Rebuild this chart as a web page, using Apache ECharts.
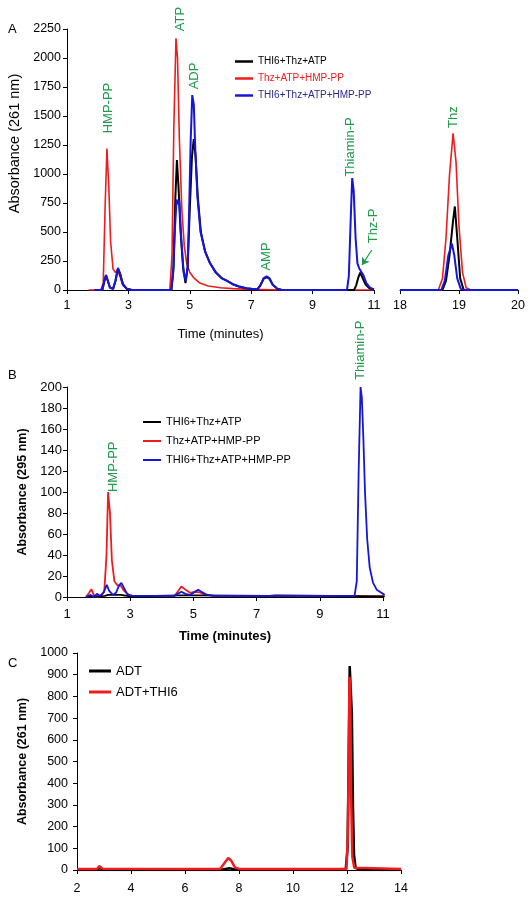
<!DOCTYPE html>
<html><head><meta charset="utf-8">
<script src="https://cdn.jsdelivr.net/npm/echarts@6/dist/echarts.min.js"></script>
<style>html,body{margin:0;padding:0;background:#fff}#c{width:532px;height:915px}</style>
</head><body><div id="c"></div>
<script>
// ---------- DATA ----------
const namesAB = ['THI6+Thz+ATP', 'Thz+ATP+HMP-PP', 'THI6+Thz+ATP+HMP-PP'];
const namesC = ['ADT', 'ADT+THI6'];

// Panel A (absorbance 261 nm), time 1-11 min
const aBlackLeft = [[1.9,0],[2.15,0],[2.22,80],[2.27,125],[2.33,80],[2.4,20],[2.5,10],[2.58,80],[2.66,185],[2.73,140],[2.82,50],[2.95,10],[3.1,0],[4.4,0],[4.47,200],[4.53,800],[4.58,1120],[4.63,900],[4.7,500],[4.78,200],[4.86,60],[4.93,200],[5.0,700],[5.07,1150],[5.13,1300],[5.19,1150],[5.26,800],[5.36,500],[5.5,330],[5.66,230],[5.85,150],[6.05,100],[6.2,80],[6.4,50],[6.6,30],[6.9,12],[7.2,5],[7.3,40],[7.4,95],[7.5,110],[7.6,95],[7.7,45],[7.85,10],[8.0,0],[10.35,0],[10.42,40],[10.48,100],[10.55,150],[10.62,110],[10.72,50],[10.85,15],[11.0,3]];
const aRedLeft = [[1.7,0],[2.1,0],[2.18,60],[2.24,700],[2.3,1220],[2.36,900],[2.42,420],[2.5,180],[2.58,150],[2.65,170],[2.72,120],[2.82,40],[2.95,8],[3.2,0],[4.35,0],[4.42,300],[4.48,1400],[4.55,2170],[4.6,2000],[4.66,1300],[4.74,700],[4.82,380],[4.9,230],[5.0,150],[5.15,100],[5.33,60],[5.6,35],[6.0,20],[6.4,12],[7.0,5],[8.0,0],[11.0,0]];
const aBlueLeft = [[1.9,0],[2.15,0],[2.22,80],[2.27,130],[2.33,80],[2.4,20],[2.5,10],[2.58,80],[2.66,190],[2.73,140],[2.82,50],[2.95,10],[3.1,0],[4.4,0],[4.46,150],[4.52,550],[4.57,780],[4.62,740],[4.66,770],[4.72,450],[4.8,150],[4.87,80],[4.93,200],[4.98,700],[5.03,1300],[5.08,1680],[5.13,1600],[5.18,1200],[5.25,800],[5.35,500],[5.5,330],[5.66,230],[5.85,150],[6.05,100],[6.2,80],[6.4,50],[6.6,30],[6.9,12],[7.2,5],[7.3,40],[7.4,100],[7.5,118],[7.6,100],[7.7,45],[7.85,10],[8.0,0],[10.12,0],[10.18,120],[10.24,600],[10.29,965],[10.34,850],[10.4,450],[10.46,230],[10.52,185],[10.57,190],[10.65,130],[10.75,60],[10.87,20],[11.0,5]];
// Panel A, time 18-20 min
const aBlackRight = [[18,0],[18.72,0],[18.78,80],[18.84,300],[18.9,600],[18.93,720],[18.97,450],[19.02,100],[19.08,0],[20,0]];
const aRedRight = [[18,0],[18.65,0],[18.72,100],[18.78,450],[18.84,1000],[18.9,1350],[18.95,1100],[19.0,550],[19.06,150],[19.12,20],[19.2,0],[20,0]];
const aBlueRight = [[18,0],[18.7,0],[18.76,80],[18.82,300],[18.88,400],[18.92,300],[18.97,100],[19.03,10],[19.1,0],[20,0]];

// Panel B (absorbance 295 nm)
const bBlack = [[1.6,0],[2.2,1],[2.3,2],[2.7,2],[3.0,0.5],[4.6,1.5],[5.1,1.5],[7.4,1],[7.6,1.5],[11.05,0.5]];
const bRed = [[1.6,0],[1.7,4],[1.77,7.5],[1.85,2],[1.95,0],[2.05,1],[2.18,5],[2.25,40],[2.3,100],[2.36,80],[2.42,35],[2.5,15],[2.6,11],[2.7,11],[2.8,6],[2.95,2],[3.1,1],[4.4,1],[4.5,5],[4.62,10],[4.75,7],[4.9,4],[5.05,5],[5.18,4.5],[5.4,2],[5.7,1],[8.6,1],[11.05,0.5]];
const bBlue = [[1.6,0],[1.75,2],[1.85,0],[1.95,3],[2.05,1],[2.15,4],[2.26,11.5],[2.33,6],[2.45,2],[2.55,4],[2.65,11],[2.72,13.5],[2.8,9],[2.9,3],[3.05,1],[4.4,1],[4.5,3],[4.62,5],[4.75,3],[4.9,2],[5.05,5],[5.15,7],[5.25,5],[5.4,2.5],[5.6,1],[10.1,1],[10.17,15],[10.23,120],[10.29,200],[10.33,190],[10.38,150],[10.43,100],[10.5,55],[10.58,28],[10.68,14],[10.8,7],[10.95,4],[11.05,2]];

// Panel C (absorbance 261 nm)
const cADT = [[2,0],[2.75,0],[2.85,10],[2.95,0],[7.3,0],[7.5,5],[7.65,8],[7.8,4],[8.0,0],[11.95,0],[12.02,100],[12.06,480],[12.1,940],[12.14,935],[12.18,720],[12.22,300],[12.26,70],[12.32,10],[12.5,0],[14,0]];
const cADTTHI6 = [[2,5],[2.75,5],[2.82,18],[2.88,20],[2.95,6],[7.3,5],[7.45,30],[7.6,55],[7.7,45],[7.85,12],[8.0,5],[11.98,5],[12.03,150],[12.06,470],[12.09,890],[12.12,850],[12.15,350],[12.2,60],[12.27,10],[14,5]];

// tick labels
const aTicksX = [1,3,5,7,9,11];
const aRightTicksX = [18,19,20];
const bTicksX = [1,3,5,7,9,11];
const cTicksX = [2,4,6,8,10,12,14];

// peak annotations (data coordinates in their panel)
const annotations = [
  {text:'HMP-PP', grid:0, t:2.34, v:1569},
  {text:'ATP', grid:0, t:4.71, v:2336},
  {text:'ADP', grid:0, t:5.14, v:1845},
  {text:'AMP', grid:0, t:7.51, v:289},
  {text:'Thiamin-P', grid:0, t:10.22, v:1233},
  {text:'Thz-P', grid:0, t:10.97, v:552},
  {text:'Thz', grid:1, t:18.9, v:1491},
  {text:'HMP-PP', grid:2, t:2.46, v:124},
  {text:'Thiamin-P', grid:2, t:10.27, v:235}
];
const thzPArrow = [[10.93,345],[10.61,216]];

// ---------- STYLE ----------
const FONT = 'Liberation Sans, Arial, sans-serif';
const BLACK = '#000000', RED = '#ee1c1c', BLUE = '#1616d8', GREEN = '#1f9a4a', NAVY = '#2b2b8c';
const plain = v => String(v);

function xAxis(gridIndex, min, max, ticks, fs, margin, extra) {
  return Object.assign({
    type:'value', gridIndex, min, max,
    axisLine:{show:true, onZero:false, lineStyle:{color:'#000', width:1}},
    axisTick:{show:true, inside:false, length:4, customValues:ticks, lineStyle:{color:'#000'}},
    axisLabel:{customValues:ticks, color:'#000', fontSize:fs, fontFamily:FONT, margin, formatter:plain},
    splitLine:{show:false}
  }, extra || {});
}
function yAxis(gridIndex, max, interval, fs, margin, show, extra) {
  return Object.assign({
    type:'value', gridIndex, min:0, max, interval, show,
    axisLine:{show:true, lineStyle:{color:'#000', width:1}},
    axisTick:{show:true, inside:false, length:4, lineStyle:{color:'#000'}},
    axisLabel:{color:'#000', fontSize:fs, fontFamily:FONT, margin, formatter:plain},
    splitLine:{show:false}
  }, extra || {});
}
function line(name, data, color, width, xi, yi, extra) {
  return Object.assign({
    type:'line', name, data, xAxisIndex:xi, yAxisIndex:yi,
    showSymbol:false, symbol:'none', smooth:false, animation:false,
    lineStyle:{color, width}, itemStyle:{color}, z:2
  }, extra || {});
}

const option = {
  animation:false,
  backgroundColor:'#fff',
  textStyle:{fontFamily:FONT},
  grid:[
    {left:67, top:29, width:307, height:261},
    {left:400, top:29, width:118, height:261},
    {left:67, top:387, width:316, height:210},
    {left:77, top:653, width:324, height:217}
  ],
  xAxis:[
    xAxis(0, 1, 11, aTicksX, 12.5, 9, {name:'Time (minutes)', nameLocation:'middle', nameGap:38, nameTextStyle:{color:'#000', fontSize:13, fontFamily:FONT}}),
    xAxis(1, 18, 20, aRightTicksX, 12.5, 9),
    xAxis(2, 1, 11, bTicksX, 13, 11, {name:'Time (minutes)', nameLocation:'middle', nameGap:33, nameTextStyle:{color:'#000', fontSize:13, fontWeight:'bold', fontFamily:FONT}}),
    xAxis(3, 2, 14, cTicksX, 12.5, 12)
  ],
  yAxis:[
    yAxis(0, 2250, 250, 12.5, 6, true),
    yAxis(1, 2250, 250, 12.5, 6, false),
    yAxis(2, 200, 20, 13, 5, true, {name:'Absorbance (295 nm)', nameLocation:'middle', nameGap:34, nameTextStyle:{color:'#000', fontSize:12.5, fontWeight:'bold', fontFamily:FONT}}),
    yAxis(3, 1000, 100, 12.5, 9, true, {name:'Absorbance (261 nm)', nameLocation:'middle', nameGap:42, nameTextStyle:{color:'#000', fontSize:12.5, fontWeight:'bold', fontFamily:FONT}})
  ],
  legend:[
    {orient:'vertical', left:230, top:50.5, icon:'rect', itemWidth:18, itemHeight:2.5, itemGap:5,
     textStyle:{fontSize:10, fontFamily:FONT, lineHeight:12},
     data:[{name:namesAB[0], textStyle:{color:BLACK}},{name:namesAB[1], textStyle:{color:RED}},{name:namesAB[2], textStyle:{color:NAVY}}]},
    {orient:'vertical', left:138, top:410.5, icon:'rect', itemWidth:18, itemHeight:2, itemGap:6,
     textStyle:{fontSize:11, fontFamily:FONT, lineHeight:13, color:'#000'},
     data:namesAB.slice()},
    {orient:'vertical', left:84, top:658.5, icon:'rect', itemWidth:22, itemHeight:3, itemGap:6,
     textStyle:{fontSize:13, fontFamily:FONT, lineHeight:15, color:'#000'},
     data:namesC.slice()}
  ],
  series:[
    line(namesAB[1], aRedLeft, RED, 1.6, 0, 0),
    line(namesAB[0], aBlackLeft, BLACK, 2, 0, 0),
    line(namesAB[2], aBlueLeft, BLUE, 2, 0, 0, {
      markLine:{silent:true, symbol:['none','arrow'], symbolSize:7, animation:false,
        lineStyle:{color:GREEN, width:1.2, type:'solid'}, label:{show:false},
        data:[[{coord:thzPArrow[0]},{coord:thzPArrow[1]}]]}
    }),
    line(namesAB[1], aRedRight, RED, 1.6, 1, 1),
    line(namesAB[0], aBlackRight, BLACK, 2, 1, 1),
    line(namesAB[2], aBlueRight, BLUE, 2, 1, 1),
    line(namesAB[1], bRed, RED, 1.8, 2, 2),
    line(namesAB[0], bBlack, BLACK, 1.8, 2, 2),
    line(namesAB[2], bBlue, BLUE, 1.8, 2, 2),
    line(namesC[0], cADT, BLACK, 2.5, 3, 3),
    line(namesC[1], cADTTHI6, RED, 2.5, 3, 3)
  ]
};

const chart = echarts.init(document.getElementById('c'), null, {renderer:'canvas'});
chart.setOption(option);

const graphics = annotations.map(a => {
  const p = chart.convertToPixel({gridIndex:a.grid}, [a.t, a.v]);
  return {type:'text', x:p[0], y:p[1], rotation:Math.PI/2, silent:true,
    style:{text:a.text, fill:GREEN, fontSize:13, fontFamily:FONT, align:'center', verticalAlign:'middle'}};
});
const yTopLeft = chart.convertToPixel({gridIndex:0}, [1, 2250]);
const yBotLeft = chart.convertToPixel({gridIndex:0}, [1, 0]);
graphics.push(
  {type:'text', x:15, y:(yTopLeft[1]+yBotLeft[1])/2 - 16, rotation:Math.PI/2, silent:true,
   style:{text:'Absorbance (261 nm)', fill:'#000', fontSize:14.5, fontFamily:FONT, align:'center', verticalAlign:'middle'}},
  {type:'text', x:8, y:29, silent:true, style:{text:'A', fill:'#000', fontSize:13, fontFamily:FONT, align:'left', verticalAlign:'middle'}},
  {type:'text', x:8, y:375, silent:true, style:{text:'B', fill:'#000', fontSize:13, fontFamily:FONT, align:'left', verticalAlign:'middle'}},
  {type:'text', x:8, y:663, silent:true, style:{text:'C', fill:'#000', fontSize:13, fontFamily:FONT, align:'left', verticalAlign:'middle'}}
);
chart.setOption({graphic:graphics});
</script>
</body></html>
